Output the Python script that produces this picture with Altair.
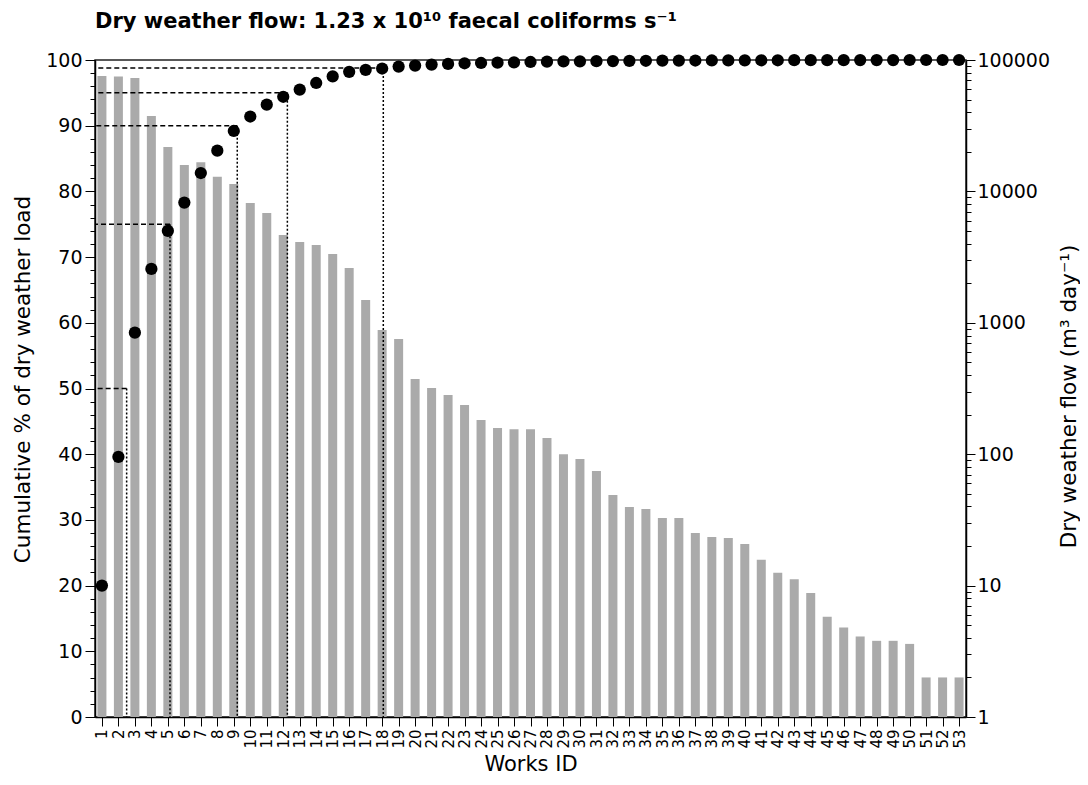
import altair as alt
import pandas as pd

ids = list(range(1, 54))
flow = [75500, 75000, 72900, 37500, 21800, 15900, 16700, 12900, 11400, 8160,
        6850, 4660, 4120, 3910, 3340, 2610, 1490, 882, 753, 374,
        319, 282, 237, 182, 158, 155, 155, 133, 100, 92,
        74.5, 48.9, 39.6, 38.3, 32.7, 32.7, 25.1, 23.4, 23.0, 20.7,
        15.7, 12.5, 11.2, 8.8, 5.8, 4.8, 4.1, 3.8, 3.8, 3.6,
        2.0, 2.0, 2.0]
cum = [20.0, 39.6, 58.5, 68.2, 74.0, 78.3, 82.8, 86.2, 89.2, 91.4,
       93.2, 94.4, 95.5, 96.5, 97.5, 98.2, 98.5, 98.7, 99.0, 99.15,
       99.3, 99.4, 99.5, 99.55, 99.6, 99.65, 99.7, 99.75, 99.78, 99.8,
       99.82, 99.84, 99.86, 99.88, 99.9, 99.91, 99.92, 99.93, 99.94, 99.95,
       99.96, 99.96, 99.97, 99.97, 99.98, 99.98, 99.99, 99.99, 99.99, 100,
       100, 100, 100]
thr_pct = [50, 75, 90, 95, 98.8]
thr_works = [2.5, 5.13, 9.21, 12.25, 18.07]
title_text = ["Dry weather flow: 1.23 x 10¹⁰ faecal coliforms s⁻¹"]

left_ticks = list(range(0, 101, 2))
right_ticks = [m * 10 ** e for e in range(0, 5) for m in range(1, 10)] + [100000]

df = pd.DataFrame({"id": ids, "flow": flow, "cum": cum})
thr = pd.DataFrame({"pct": thr_pct, "works": thr_works})
tdf = pd.DataFrame({"label": title_text})

FONT = "DejaVu Sans"
xdom = [0.58, 53.42]
xscale = alt.Scale(domain=xdom, nice=False, zero=False, padding=0)
xaxis = alt.Axis(values=ids, labelAngle=270, title="Works ID",
                 labelFont=FONT, labelFontSize=15, labelColor="black",
                 titleFont=FONT, titleFontSize=21, titleFontWeight="normal",
                 titleColor="black", tickSize=9, labelPadding=3,
                 tickColor="black", domainColor="black", domainWidth=1.5,
                 labelOverlap=False, grid=False, titleY=53,
                 titleBaseline="alphabetic")


def X(field):
    return alt.X(field, scale=xscale, axis=xaxis)


yleft_scale = alt.Scale(domain=[0, 100], nice=False, zero=True)

bars = alt.Chart(df).mark_bar(size=9, color="#aaaaaa").encode(
    x=X("id:Q"),
    y=alt.Y("flow:Q", scale=alt.Scale(type="log", domain=[1, 100000], nice=False),
            axis=alt.Axis(orient="right", values=right_ticks, format="d",
                          title="Dry weather flow  (m³ day⁻¹)",
                          labelExpr="indexof([1,10,100,1000,10000,100000], datum.value) >= 0 ? datum.label : ''",
                          tickSize={"condition": {"test": "indexof([1,10,100,1000,10000,100000], datum.value) >= 0", "value": 9}, "value": 5},
                          labelFont=FONT, labelFontSize=19, labelColor="black",
                          titleFont=FONT, titleFontSize=21.5, titleFontWeight="normal",
                          titleColor="black", titleAngle=270, titleX=103, titleY=336,
                          titleBaseline="middle",
                          tickColor="black", domainColor="black", domainWidth=1.5,
                          labelOverlap=False, grid=False, labelPadding=2)),
    y2=alt.datum(1),
)

hlines = alt.Chart(thr).mark_rule(color="black", strokeWidth=1.5, strokeDash=[5, 3]).encode(
    x=X("works:Q"),
    x2=alt.datum(xdom[0]),
    y=alt.Y("pct:Q", scale=yleft_scale, axis=None),
)

vlines = alt.Chart(thr).mark_rule(color="black", strokeWidth=1.5, strokeDash=[2, 2]).encode(
    x=X("works:Q"),
    y=alt.Y("pct:Q", scale=yleft_scale, axis=None),
    y2=alt.datum(0),
)

dots = alt.Chart(df).mark_circle(size=150, color="black", opacity=1).encode(
    x=X("id:Q"),
    y=alt.Y("cum:Q", scale=yleft_scale,
            axis=alt.Axis(orient="left", values=left_ticks,
                          title="Cumulative % of dry weather load",
                          labelExpr="datum.value % 10 === 0 ? datum.label : ''",
                          tickSize={"condition": {"test": "datum.value % 10 === 0", "value": 10}, "value": 5},
                          labelFont=FONT, labelFontSize=19, labelColor="black",
                          titleFont=FONT, titleFontSize=21.5, titleFontWeight="normal",
                          titleColor="black", titleX=-72, titleY=319,
                          titleBaseline="middle",
                          tickColor="black", domainColor="black", domainWidth=1.5,
                          labelOverlap=False, grid=False, labelPadding=3)),
)

title = alt.Chart(tdf).mark_text(align="left", baseline="alphabetic", font=FONT,
                                 fontSize=21, fontWeight="bold", color="black").encode(
    text="label:N",
    x=alt.value(0),
    y=alt.value(-32),
)

chart = alt.layer(bars, hlines, vlines, dots, title).resolve_scale(y="independent").properties(
    width=871, height=657,
    autosize=alt.AutoSizeParams(type="none"),
    padding={"left": 87, "top": 52, "right": 114, "bottom": 60},
).configure_view(stroke="#222222", strokeWidth=1.5)

chart.save("out.html", embed_options={"renderer": "svg", "actions": False})
